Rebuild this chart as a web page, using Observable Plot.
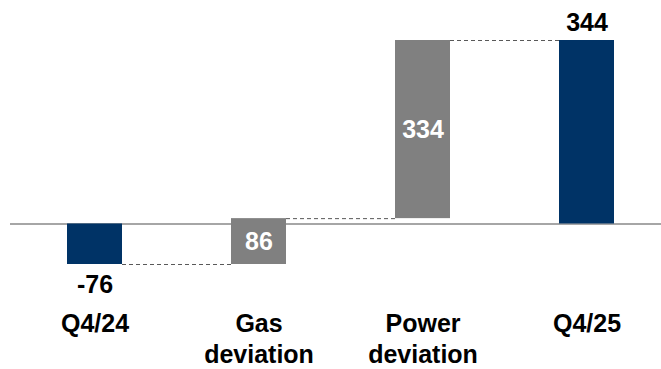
<!DOCTYPE html>
<html>
<head>
<meta charset="utf-8">
<script src="https://cdn.jsdelivr.net/npm/d3@7"></script>
<script src="https://cdn.jsdelivr.net/npm/@observablehq/plot@0.6"></script>
<style>
  html, body { margin: 0; padding: 0; background: #fff; }
  #chart { width: 661px; height: 369px; }
</style>
</head>
<body>
<div id="chart"></div>
<script>
const categories = ["Q4/24", "Gas\ndeviation", "Power\ndeviation", "Q4/25"];
const values = [-76, 86, 334, 344];
const kinds = ["total", "delta", "delta", "total"];
const labelPlacement = ["below", "inside", "inside", "above"];

const NAVY = "#003366";
const GRAY = "#808080";
const FONT = "'Liberation Sans', Arial, Helvetica, sans-serif";

let run = 0;
const rows = categories.map((c, i) => {
  let y1, y2;
  if (kinds[i] === "total") { y1 = 0; y2 = values[i]; }
  else { y1 = run; y2 = run + values[i]; }
  run = y2;
  return {cat: c, y1, y2, value: values[i], kind: kinds[i], place: labelPlacement[i]};
});
const connectors = rows.slice(0, -1).map((r, i) => ({from: r.cat, to: rows[i + 1].cat, y: r.y2}));
const yDomain = d3.extent(rows.flatMap(r => [r.y1, r.y2]));

function make(inset) {
  return Plot.plot({
    width: 661,
    height: 369,
    marginTop: 40,
    marginBottom: 105,
    marginLeft: 10,
    marginRight: 0,
    style: {fontFamily: FONT, background: "white"},
    x: {domain: categories, paddingInner: 0.666, paddingOuter: 0.312, align: 0.546, label: null},
    y: {domain: yDomain, axis: null},
    color: {type: "identity"},
    marks: [
      Plot.ruleY([0], {stroke: "#A6A6A6", strokeWidth: 2}),
      Plot.ruleY(connectors, {y: "y", x1: "from", x2: "to", insetLeft: inset, insetRight: inset,
        stroke: "#595959", strokeWidth: 1, strokeDasharray: "4,3"}),
      Plot.barY(rows, {x: "cat", y1: "y1", y2: "y2", fill: d => d.kind === "total" ? NAVY : GRAY}),
      Plot.text(rows.filter(d => d.place === "inside"), {x: "cat", y: d => (d.y1 + d.y2) / 2,
        text: d => String(d.value), fill: "white", fontSize: 25, fontWeight: "bold"}),
      Plot.text(rows.filter(d => d.place === "above"), {x: "cat", y: "y2", dy: -18,
        text: d => String(d.value), fill: "black", fontSize: 25, fontWeight: "bold"}),
      Plot.text(rows.filter(d => d.place === "below"), {x: "cat", y: "y2", dy: 20,
        text: d => String(d.value), fill: "black", fontSize: 25, fontWeight: "bold"}),
      Plot.axisX({tickSize: 0, tickPadding: 46, fontSize: 25, fontWeight: "bold", lineHeight: 1.22,
        fill: "black", label: null})
    ]
  });
}

const probe = make(0);
const bw = probe.scale("x").bandwidth;
document.getElementById("chart").appendChild(make(bw));
</script>
</body>
</html>
